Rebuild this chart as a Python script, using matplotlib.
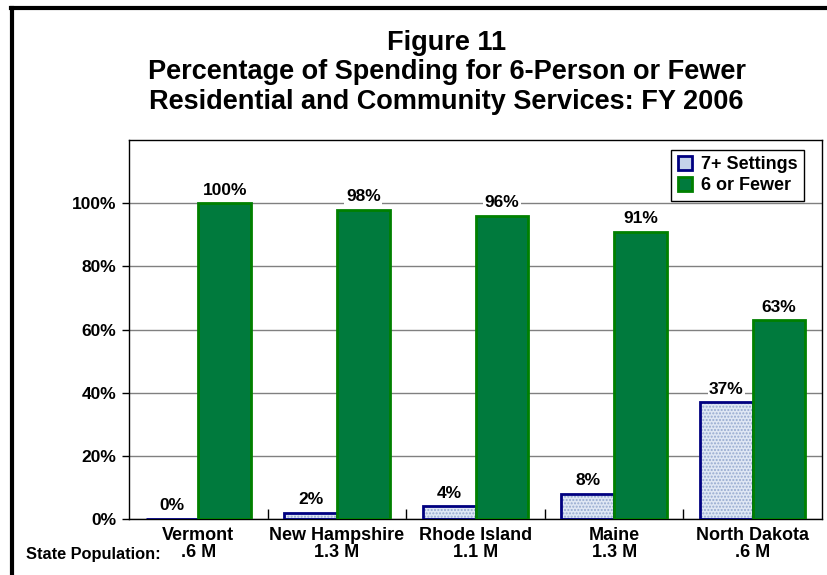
import matplotlib
matplotlib.use('Agg')
import matplotlib.pyplot as plt
from matplotlib.patches import Patch
from matplotlib.lines import Line2D
import numpy as np

# Data
states = ['Vermont', 'New Hampshire', 'Rhode Island', 'Maine', 'North Dakota']
populations = ['.6 M', '1.3 M', '1.1 M', '1.3 M', '.6 M']
large_settings = [0, 2, 4, 8, 37]      # 7+ Settings
small_settings = [100, 98, 96, 91, 63]  # 6 or Fewer
y_ticks = [0, 20, 40, 60, 80, 100]

plt.rcParams['font.family'] = ['Liberation Sans', 'DejaVu Sans']
plt.rcParams['font.weight'] = 'bold'

fig = plt.figure(figsize=(8.27, 5.75), dpi=100)
ax = fig.add_axes([0.156, 0.0974, 0.838, 0.659])

x = np.arange(len(states))
width = 0.38

# 7+ settings: dotted light blue fill, navy edge
ax.bar(x - width/2, large_settings, width, color='#dfe7f4',
       edgecolor='#95a9cf', hatch='.....', linewidth=0, zorder=2)
ax.bar(x - width/2, large_settings, width, fill=False,
       edgecolor='#000080', linewidth=2, zorder=3)
# 6 or fewer: solid green
ax.bar(x + width/2, small_settings, width, color='#007a3d',
       edgecolor='#008000', linewidth=2, zorder=3)

# value labels on white boxes
for i in range(len(states)):
    ax.annotate(str(large_settings[i]) + '%', (x[i] - width/2, large_settings[i]),
                xytext=(0, 4), textcoords='offset points', ha='center',
                va='bottom', fontsize=12.5, fontweight='bold', zorder=4,
                bbox=dict(facecolor='white', edgecolor='none', pad=1))
    ax.annotate(str(small_settings[i]) + '%', (x[i] + width/2, small_settings[i]),
                xytext=(0, 4), textcoords='offset points', ha='center',
                va='bottom', fontsize=12.5, fontweight='bold', zorder=4,
                bbox=dict(facecolor='white', edgecolor='none', pad=1))

ax.set_xlim(-0.5, len(states) - 0.5)
ax.set_ylim(0, 120)
ax.set_yticks(y_ticks)
ax.set_yticklabels([str(v) + '%' for v in y_ticks], fontsize=12.5,
                   fontweight='bold')
ax.yaxis.grid(True, color='#808080', linewidth=1, zorder=0)
ax.set_axisbelow(True)
ax.tick_params(axis='y', length=5, width=1, pad=4)

# category labels with population underneath
ax.set_xticks(x)
ax.set_xticklabels([s + '\n' + p for s, p in zip(states, populations)],
                   fontsize=13, fontweight='bold', linespacing=1.0)
ax.tick_params(axis='x', length=0, pad=6)
ax.set_xticks(np.arange(0.5, len(states) - 0.5), minor=True)
ax.tick_params(axis='x', which='minor', direction='in', length=7, width=1)
for sp in ax.spines.values():
    sp.set_linewidth(1)

fig.text(0.194, 0.036, 'State Population:', ha='right', va='center',
         fontsize=11.8, fontweight='bold')

handles = [Patch(facecolor='#c4d2ea', edgecolor='#000080', linewidth=2),
           Patch(facecolor='#007a3d', edgecolor='#008000', linewidth=2)]
leg = ax.legend(handles, ['7+ Settings', '6 or Fewer'], loc='upper right',
                bbox_to_anchor=(0.974, 0.974), fancybox=False,
                edgecolor='black', framealpha=1, handlelength=0.8,
                handleheight=0.8, handletextpad=0.5, labelspacing=0.2,
                borderpad=0.35, borderaxespad=0,
                prop={'size': 13, 'weight': 'bold'})
leg.get_frame().set_linewidth(1)

fig.suptitle('Figure 11\nPercentage of Spending for 6-Person or Fewer\n'
             'Residential and Community Services: FY 2006',
             x=0.54, y=0.948, fontsize=19.5, fontweight='bold',
             linespacing=1.17)

# thick outer border (left and top visible)
fig.add_artist(Line2D([0.0145, 0.0145], [0, 0.986], color='black',
                      linewidth=3, transform=fig.transFigure))
fig.add_artist(Line2D([0.0135, 1.0], [0.986, 0.986], color='black',
                      linewidth=3, transform=fig.transFigure))

fig.savefig('out.png', dpi=100)
